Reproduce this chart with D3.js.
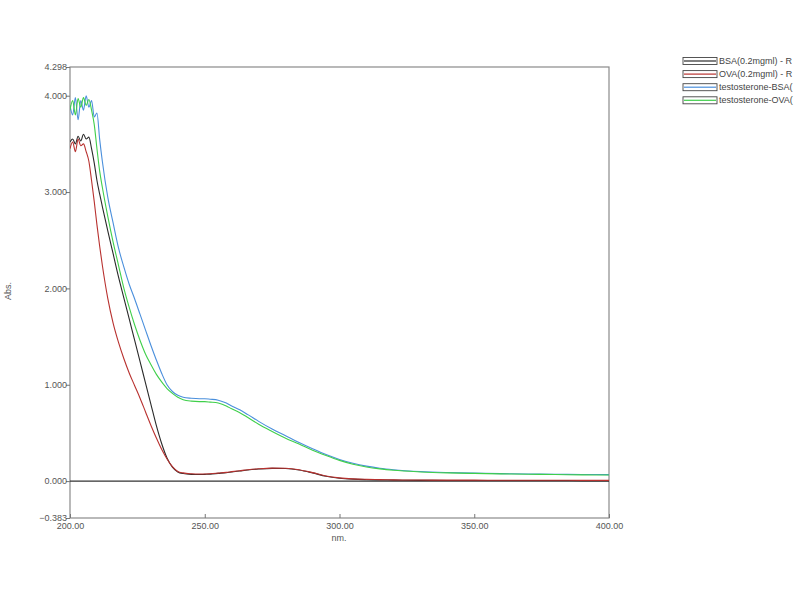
<!DOCTYPE html>
<html>
<head>
<meta charset="utf-8">
<script src="https://cdn.jsdelivr.net/npm/d3@7"></script>
<style>
  html, body { margin: 0; padding: 0; background: #fff; }
  svg { display: block; }
  text { font-family: "Liberation Sans", Arial, sans-serif; }
</style>
</head>
<body>
<svg id="chart" width="800" height="600"></svg>
<script>
// Wavelengths (nm)
const wavelengths = [200,201,202,203,204,205,206,207,208,209,210,211,212,
  214,216,218,220,222,224,226,228,230,232,234,236,238,240,242,
  245,248,250,252,255,258,260,263,266,270,275,280,285,290,295,300,305,310,315,320,
  330,340,350,360,370,380,390,400];

// Absorbance series
const bsa = [3.52,3.55,3.50,3.58,3.53,3.60,3.55,3.57,3.45,3.30,3.12,2.98,2.85,
  2.60,2.36,2.12,1.90,1.68,1.46,1.24,1.02,0.80,0.58,0.39,0.24,0.145,0.095,0.078,
  0.07,0.068,0.07,0.072,0.08,0.088,0.095,0.105,0.115,0.125,0.132,0.13,0.115,0.085,0.05,0.03,0.02,0.015,0.012,0.01,
  0.008,0.007,0.007,0.006,0.006,0.006,0.005,0.005];
const ova = [3.45,3.52,3.42,3.55,3.48,3.50,3.42,3.32,3.12,2.90,2.66,2.44,2.24,
  1.90,1.64,1.44,1.27,1.12,0.99,0.86,0.72,0.58,0.45,0.33,0.23,0.15,0.10,0.085,
  0.076,0.073,0.074,0.076,0.083,0.091,0.098,0.108,0.118,0.128,0.135,0.133,0.118,0.088,0.053,0.033,0.023,0.018,0.015,0.013,
  0.011,0.01,0.01,0.009,0.009,0.009,0.008,0.008];
const testoBsa = [3.90,3.80,3.98,3.75,3.95,3.85,4.00,3.88,3.95,3.78,3.82,3.55,3.32,
  2.95,2.68,2.42,2.22,2.04,1.89,1.73,1.57,1.41,1.26,1.12,1.00,0.93,0.89,0.87,
  0.86,0.855,0.855,0.85,0.84,0.81,0.78,0.74,0.69,0.62,0.54,0.47,0.40,0.335,0.275,0.225,0.185,0.155,0.133,0.118,
  0.099,0.089,0.083,0.078,0.074,0.071,0.069,0.067];
const testoOva = [3.85,3.95,3.80,3.97,3.88,3.98,3.90,3.96,3.85,3.70,3.45,3.22,3.05,
  2.75,2.48,2.24,2.00,1.80,1.62,1.46,1.32,1.21,1.11,1.03,0.96,0.91,0.87,0.845,
  0.83,0.825,0.825,0.82,0.81,0.78,0.75,0.71,0.66,0.59,0.515,0.445,0.385,0.32,0.265,0.215,0.175,0.147,0.127,0.112,
  0.095,0.085,0.08,0.075,0.071,0.068,0.065,0.063];

const seriesNames = ["BSA(0.2mgml) - R", "OVA(0.2mgml) - R", "testosterone-BSA(", "testosterone-OVA("];
const seriesColors = ["#2a2a2a", "#b8312f", "#4a8fdc", "#3fcf4a"];
const xTicks = [200, 250, 300, 350, 400];
const yTicks = [-0.383, 0, 1, 2, 3, 4, 4.298];

const svg = d3.select("#chart");
const mLeft = 70, mRight = 609, mTop = 67, mBottom = 518;

const x = d3.scaleLinear().domain([200, 400]).range([mLeft, mRight]);
const y = d3.scaleLinear().domain([-0.383, 4.298]).range([mBottom, mTop]);

// Frame
svg.append("rect").attr("x", mLeft).attr("y", mTop)
  .attr("width", mRight - mLeft).attr("height", mBottom - mTop)
  .attr("fill", "none").attr("stroke", "#8a8a8a").attr("stroke-width", 1.2);

// Zero line
svg.append("line").attr("x1", mLeft).attr("x2", mRight)
  .attr("y1", y(0)).attr("y2", y(0))
  .attr("stroke", "#333").attr("stroke-width", 1.2);

// Y axis
const yAxis = d3.axisLeft(y).tickValues(yTicks).tickSize(4).tickSizeOuter(0)
  .tickFormat(d3.format(".3f"));
const gy = svg.append("g").attr("transform", `translate(${mLeft},0)`).call(yAxis);
gy.select(".domain").remove();
gy.selectAll(".tick line").attr("stroke", "#777");
gy.selectAll(".tick text").attr("fill", "#555").attr("font-size", 9)
  .attr("font-family", "Liberation Sans, Arial, sans-serif").attr("x", -3);

// X axis (ticks inward)
const xAxis = d3.axisBottom(x).tickValues(xTicks).tickSize(-4).tickSizeOuter(0)
  .tickFormat(d3.format(".2f"));
const gx = svg.append("g").attr("transform", `translate(0,${mBottom})`).call(xAxis);
gx.select(".domain").remove();
gx.selectAll(".tick line").attr("stroke", "#777");
gx.selectAll(".tick text").attr("fill", "#555").attr("font-size", 9)
  .attr("font-family", "Liberation Sans, Arial, sans-serif").attr("y", 5);

// Axis titles
svg.append("text").attr("x", 339).attr("y", 541).attr("text-anchor", "middle")
  .attr("font-size", 9).attr("fill", "#555").text("nm.");
svg.append("text").attr("transform", "translate(11,291) rotate(-90)")
  .attr("text-anchor", "middle").attr("font-size", 9).attr("fill", "#555").text("Abs.");

// Lines
const allSeries = [bsa, ova, testoBsa, testoOva];
const line = d3.line().x((d, i) => x(wavelengths[i])).y(d => y(d)).curve(d3.curveMonotoneX);
svg.append("clipPath").attr("id", "clip").append("rect")
  .attr("x", mLeft).attr("y", mTop).attr("width", mRight - mLeft).attr("height", mBottom - mTop);
const drawOrder = [0, 1, 2, 3];
svg.append("g").attr("clip-path", "url(#clip)").selectAll("path")
  .data(drawOrder).join("path")
  .attr("d", i => line(allSeries[i]))
  .attr("fill", "none")
  .attr("stroke", i => seriesColors[i])
  .attr("stroke-width", 1.1)
  .attr("stroke-linejoin", "round");

// Legend
const lg = svg.append("g");
seriesNames.forEach((name, i) => {
  const cy = 61 + i * 13.1;
  lg.append("rect").attr("x", 683).attr("y", cy - 3.5).attr("width", 34).attr("height", 7)
    .attr("fill", "#fff").attr("stroke", "#444").attr("stroke-width", 0.9);
  lg.append("line").attr("x1", 684).attr("x2", 716).attr("y1", cy).attr("y2", cy)
    .attr("stroke", seriesColors[i]).attr("stroke-width", 1.2);
  lg.append("text").attr("x", 719).attr("y", cy + 3).attr("font-size", 9)
    .attr("fill", "#444").text(name);
});
</script>
</body>
</html>
